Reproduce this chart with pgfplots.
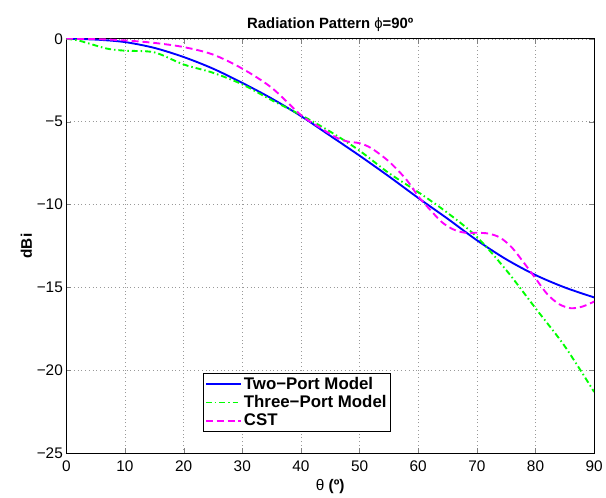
\documentclass[border=0pt]{standalone}
\usepackage{fontspec}
\setmainfont{Liberation Sans}
\usepackage{pgfplots}
\pgfplotsset{compat=1.18}
\definecolor{mBlue}{rgb}{0,0,1}
\definecolor{mGreen}{rgb}{0,1,0}
\definecolor{mMag}{rgb}{1,0,1}
\begin{document}
\begin{tikzpicture}
\begin{axis}[
  scale only axis, width=531bp, height=417bp,
  xmin=0, xmax=90, ymin=-25, ymax=0,
  xtick={0,10,...,90},
  ytick={-25,-20,-15,-10,-5,0},
  yticklabels={−25,−20,−15,−10,−5,0},
  /pgf/number format/assume math mode=true,
  tick label style={font=\fontsize{15.5}{17}\selectfont},
  xticklabel style={yshift=-4bp},
  tick align=inside, axis line style={line width=0.8pt},
  major tick length=5bp,
  grid=major, grid style={dash pattern=on 0.8pt off 3pt, gray!80, line width=0.5pt},
  title={\textbf{Radiation Pattern }ϕ\textbf{=90º}},
  title style={font=\fontsize{15}{17}\selectfont, yshift=-2bp},
  xlabel={θ \textbf{(º)}}, ylabel={\textbf{dBi}},
  label style={font=\fontsize{15.5}{17}\selectfont},
  xlabel style={yshift=-1bp},
  ylabel style={yshift=-2bp},
  legend style={at={(0.259,0.053)}, anchor=south west, draw=black, fill=white,
    line width=0.8pt,
    font=\fontsize{17}{18.5}\selectfont\bfseries, row sep=1pt, inner sep=1.5pt},
  legend cell align=left,
  legend image code/.code={\draw[#1] (0cm,0cm) -- (1.25cm,0cm);},
]
\addlegendimage{color=mBlue, line width=1.8pt}
\addlegendentry{Two−Port Model}
\addlegendimage{color=mGreen, line width=1.8pt, dash pattern=on 6pt off 3pt on 1.5pt off 3pt}
\addlegendentry{Three−Port Model}
\addlegendimage{color=mMag, line width=1.8pt, dash pattern=on 7pt off 4pt}
\addlegendentry{CST}
\addplot[color=mBlue, line width=1.9pt, smooth, forget plot] coordinates {
(0,0) (5,-0.05) (10,-0.2) (15,-0.55) (20,-1.1) (25,-1.8) (30,-2.66) (35,-3.6)
(40,-4.66) (45,-5.85) (50,-7.05) (55,-8.3) (60,-9.6) (65,-10.85) (70,-12.15)
(75,-13.3) (80,-14.25) (85,-15.0) (90,-15.6)};
\addplot[color=mGreen, line width=1.9pt, dash pattern=on 6pt off 3pt on 1.5pt off 3pt, smooth, forget plot] coordinates {
(0,0) (2,-0.1) (4,-0.3) (7,-0.6) (10,-0.72) (15,-0.82) (20,-1.55) (25,-2.05)
(30,-2.75) (35,-3.7) (40,-4.6) (45,-5.6) (50,-6.75) (55,-8.1) (60,-9.25)
(65,-10.5) (70,-11.95) (75,-13.95) (80,-16.25) (85,-18.55) (90,-21.3)};
\addplot[color=mMag, line width=1.9pt, dash pattern=on 7pt off 4pt, smooth, forget plot] coordinates {
(0,0) (5,-0.02) (10,-0.1) (15,-0.25) (20,-0.5) (25,-0.95) (30,-1.8) (35,-2.95)
(40,-4.6) (43,-5.3) (46,-5.95) (48,-6.2) (50,-6.3) (52,-6.6) (55,-7.4) (58,-8.5)
(60,-9.5) (62,-10.3) (64,-11.05) (66,-11.5) (68,-11.7) (70,-11.7) (72,-11.75)
(74,-12.0) (76,-12.6) (78,-13.5) (80,-14.45) (82,-15.4) (84,-16.0) (86,-16.25)
(88,-16.15) (90,-15.85)};
\path (rel axis cs:0,0) ++(-66.7bp,-43bp) coordinate (bbsw);
\path (rel axis cs:1,1) ++(8.3bp,39bp) coordinate (bbne);
\end{axis}
\useasboundingbox (bbsw) rectangle (bbne);
\end{tikzpicture}
\end{document}
